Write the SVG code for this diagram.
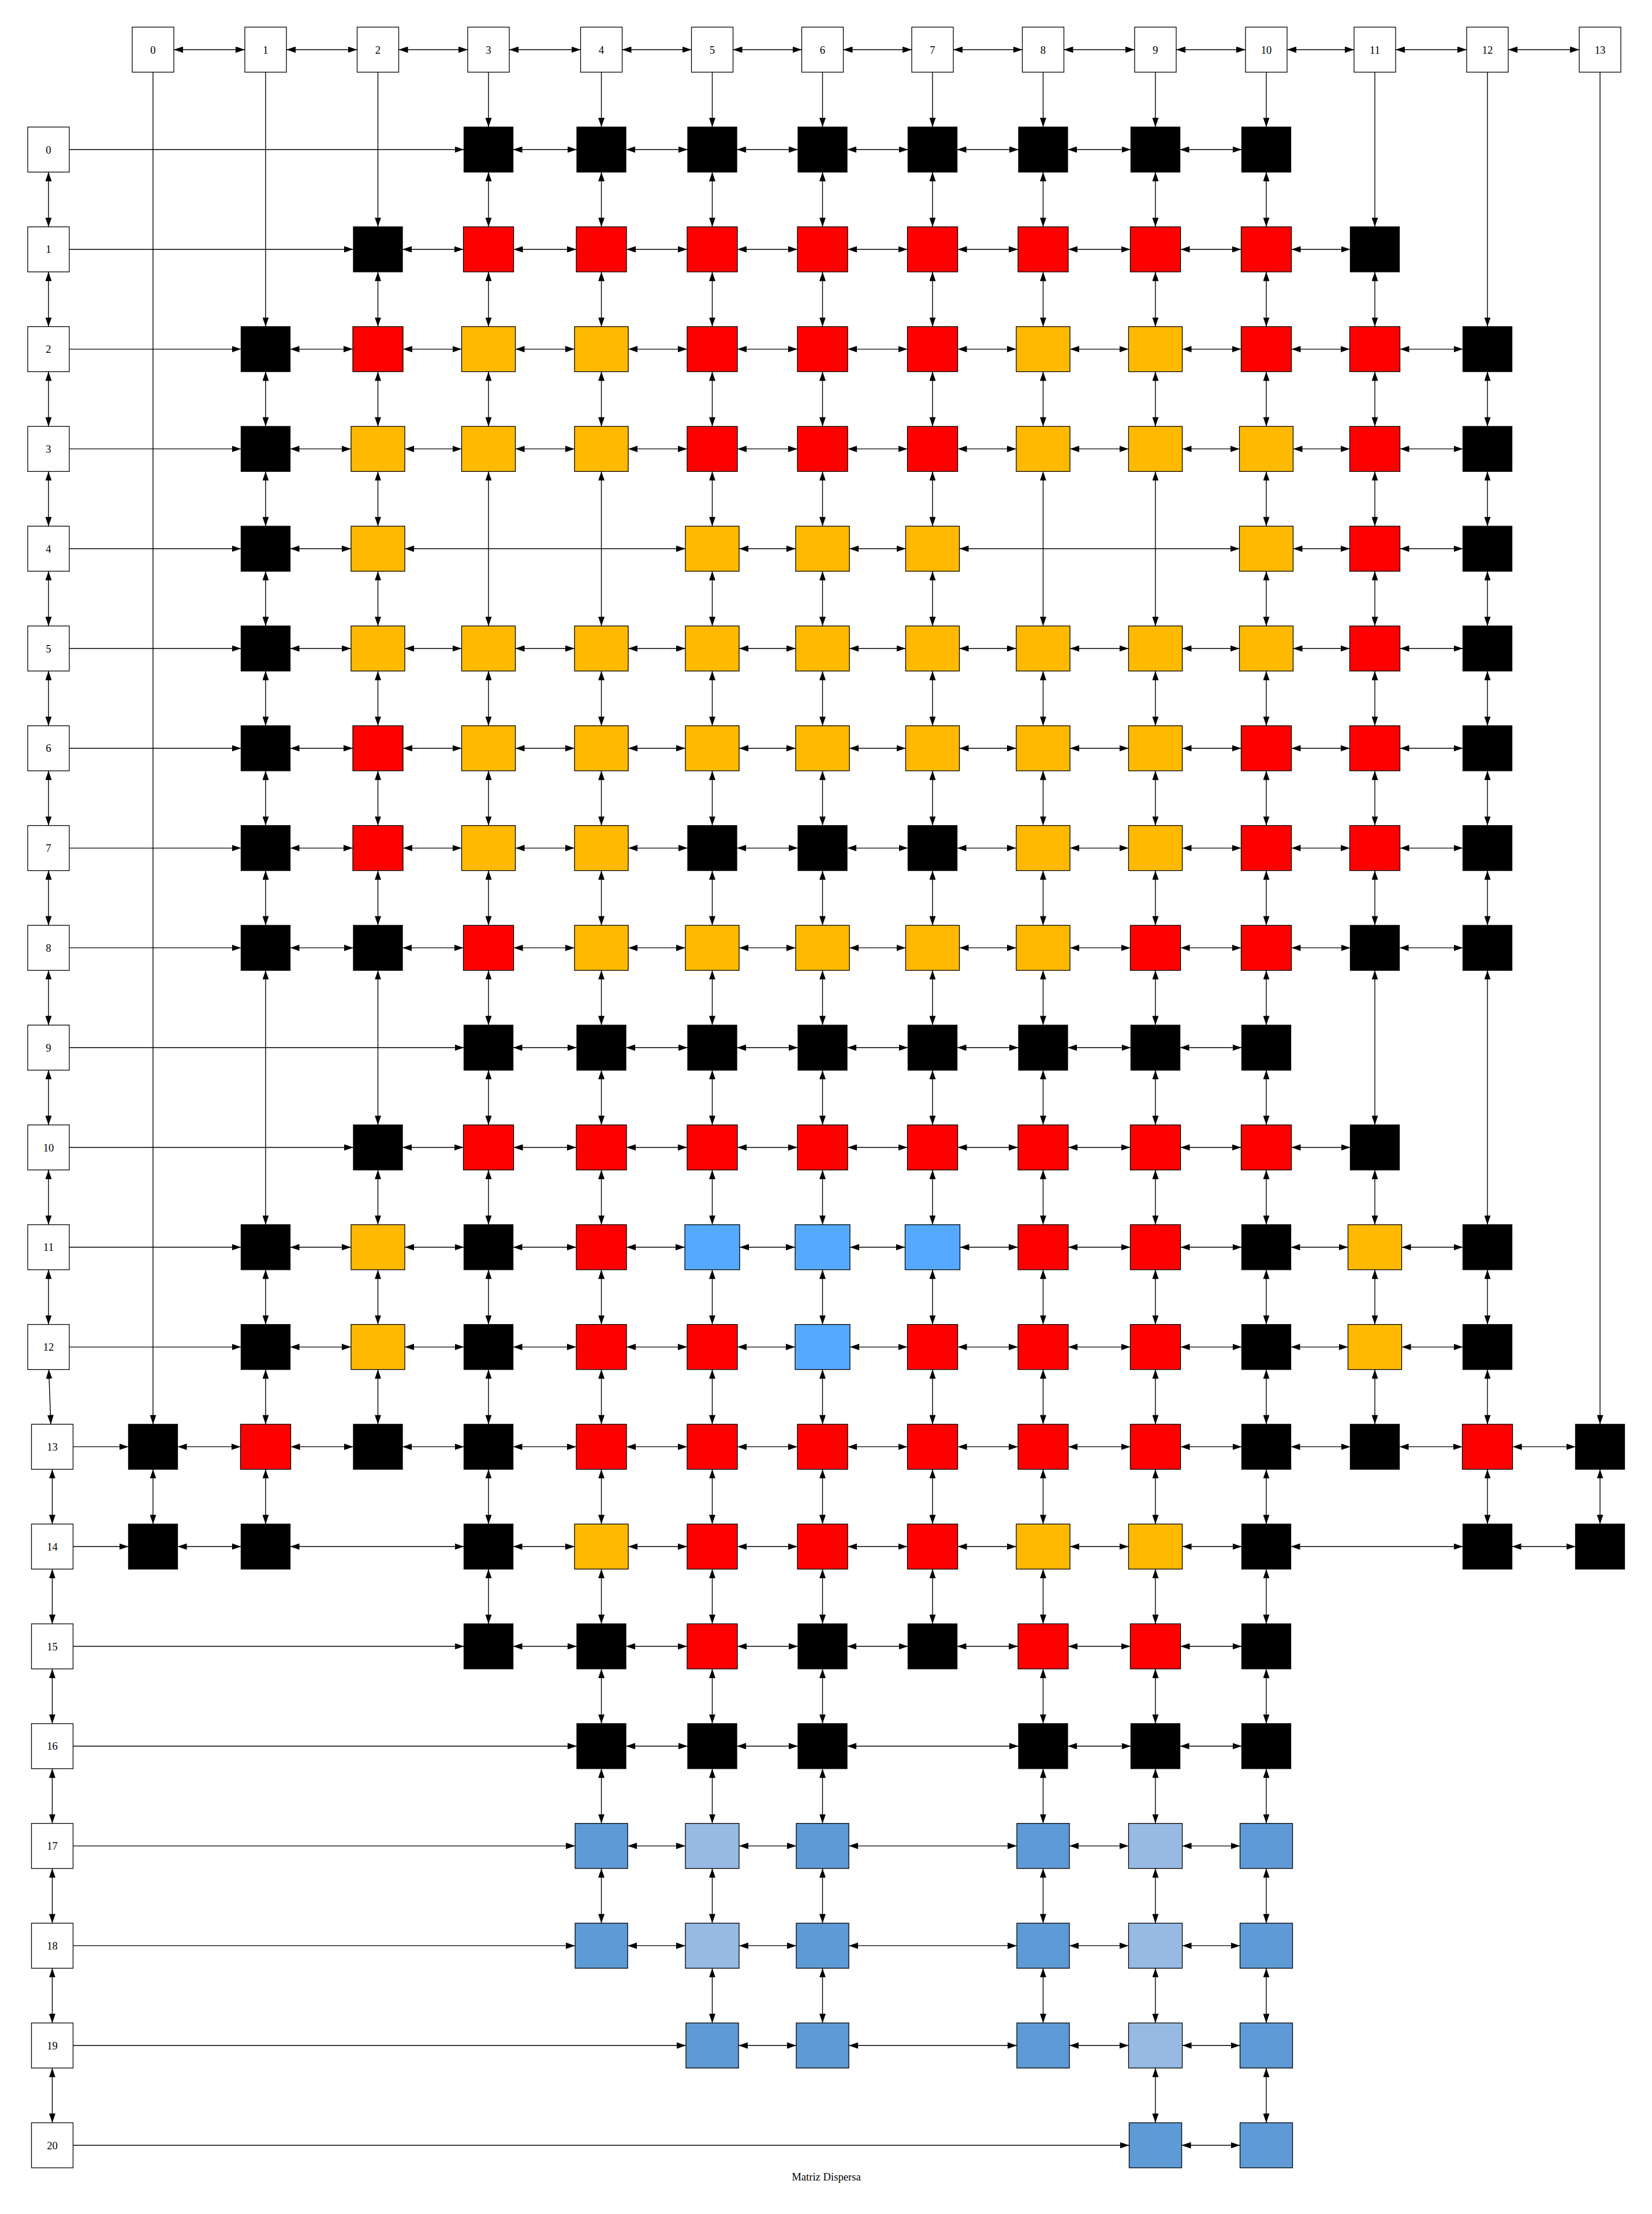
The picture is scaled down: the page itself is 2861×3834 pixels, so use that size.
<svg xmlns="http://www.w3.org/2000/svg" xmlns:xlink="http://www.w3.org/1999/xlink" width="2861" height="3834" viewBox="0 0 2861 3834">
<style>
.e path{fill:none;stroke:#000;stroke-width:1.4}
.e .d{marker-start:url(#a);marker-end:url(#a)}
.e .s{marker-end:url(#a)}
text{font-family:"Liberation Serif","Times New Roman",serif;font-size:18.67px;text-anchor:middle;fill:#000}
</style>
<defs>
<marker id="a" viewBox="0 0 16 11" refX="16" refY="5.5" markerWidth="16" markerHeight="11" markerUnits="userSpaceOnUse" orient="auto-start-reverse"><path d="M0,0L16,5.5L0,11z" fill="#000"/></marker>
<rect id="H" x="-36" y="-39" width="72" height="78" fill="#fff" stroke="#000" stroke-width="1.3"/>
<rect id="K" x="-42.5" y="-39" width="85" height="78" fill="#000" stroke="#000" stroke-width="1.3"/>
<rect id="R" x="-43.5" y="-39" width="87" height="78" fill="#ff0000" stroke="#000" stroke-width="1.3"/>
<rect id="Y" x="-46.5" y="-39" width="93" height="78" fill="#ffba00" stroke="#000" stroke-width="1.3"/>
<rect id="L" x="-47.5" y="-39" width="95" height="78" fill="#55aaff" stroke="#000" stroke-width="1.3"/>
<rect id="B" x="-45.5" y="-39" width="91" height="78" fill="#5e9ad6" stroke="#000" stroke-width="1.3"/>
<rect id="P" x="-46.5" y="-39" width="93" height="78" fill="#96bae3" stroke="#000" stroke-width="1.3"/>
</defs>
<rect width="2861" height="3834" fill="#fff"/>
<g class="e" id="connectors">
<!-- column header chain -->
<path class="d" d="M301 86H424"/><path class="d" d="M496 86H618.5"/><path class="d" d="M690.5 86H810"/><path class="d" d="M882 86H1005.5"/><path class="d" d="M1077.5 86H1197.5"/><path class="d" d="M1269.5 86H1388.5"/><path class="d" d="M1460.5 86H1579"/><path class="d" d="M1651 86H1770.5"/><path class="d" d="M1842.5 86H1965"/><path class="d" d="M2037 86H2157"/><path class="d" d="M2229 86H2345"/><path class="d" d="M2417 86H2540"/><path class="d" d="M2612 86H2735"/>
<!-- column header to first cell -->
<path class="s" d="M265 125V2466.4"/><path class="s" d="M460 125V565.6"/><path class="s" d="M654.5 125V392.8"/><path class="s" d="M846 125V220"/><path class="s" d="M1041.5 125V220"/><path class="s" d="M1233.5 125V220"/><path class="s" d="M1424.5 125V220"/><path class="s" d="M1615 125V220"/><path class="s" d="M1806.5 125V220"/><path class="s" d="M2001 125V220"/><path class="s" d="M2193 125V220"/><path class="s" d="M2381 125V392.8"/><path class="s" d="M2576 125V565.6"/><path class="s" d="M2771 125V2466.4"/>
<!-- row header chain -->
<path class="d" d="M84 298V392.8"/><path class="d" d="M84 470.8V565.6"/><path class="d" d="M84 643.6V738.4"/><path class="d" d="M84 816.4V911.2"/><path class="d" d="M84 989.2V1084"/><path class="d" d="M84 1162V1256.8"/><path class="d" d="M84 1334.8V1429.6"/><path class="d" d="M84 1507.6V1602.4"/><path class="d" d="M84 1680.4V1775.2"/><path class="d" d="M84 1853.2V1948"/><path class="d" d="M84 2026V2120.8"/><path class="d" d="M84 2198.8V2293.6"/><path class="d" d="M84.5 2371.6L88 2466.4"/><path class="d" d="M90.5 2544.4V2639.2"/><path class="d" d="M90.5 2717.2V2812"/><path class="d" d="M90.5 2890V2984.8"/><path class="d" d="M90.5 3062.8V3157.6"/><path class="d" d="M90.5 3235.6V3330.4"/><path class="d" d="M90.5 3408.4V3503.2"/><path class="d" d="M90.5 3581.2V3676"/>
<!-- row header to first cell -->
<path class="s" d="M120 259H803.5"/><path class="s" d="M120 431.8H612"/><path class="s" d="M120 604.6H417.5"/><path class="s" d="M120 777.4H417.5"/><path class="s" d="M120 950.2H417.5"/><path class="s" d="M120 1123H417.5"/><path class="s" d="M120 1295.8H417.5"/><path class="s" d="M120 1468.6H417.5"/><path class="s" d="M120 1641.4H417.5"/><path class="s" d="M120 1814.2H803.5"/><path class="s" d="M120 1987H612"/><path class="s" d="M120 2159.8H417.5"/><path class="s" d="M120 2332.6H417.5"/><path class="s" d="M126.5 2505.4H222.5"/><path class="s" d="M126.5 2678.2H222.5"/><path class="s" d="M126.5 2851H803.5"/><path class="s" d="M126.5 3023.8H999"/><path class="s" d="M126.5 3196.6H996"/><path class="s" d="M126.5 3369.4H996"/><path class="s" d="M126.5 3542.2H1188"/><path class="s" d="M126.5 3715H1955.5"/>
<!-- row 0 -->
<path class="d" d="M888.5 259H999"/><path class="d" d="M1084 259H1191"/><path class="d" d="M1276 259H1382"/><path class="d" d="M1467 259H1572.5"/><path class="d" d="M1657.5 259H1764"/><path class="d" d="M1849 259H1958.5"/><path class="d" d="M2043.5 259H2150.5"/>
<!-- row 1 -->
<path class="d" d="M697 431.8H802.5"/><path class="d" d="M889.5 431.8H998"/><path class="d" d="M1085 431.8H1190"/><path class="d" d="M1277 431.8H1381"/><path class="d" d="M1468 431.8H1571.5"/><path class="d" d="M1658.5 431.8H1763"/><path class="d" d="M1850 431.8H1957.5"/><path class="d" d="M2044.5 431.8H2149.5"/><path class="d" d="M2236.5 431.8H2338.5"/>
<!-- row 2 -->
<path class="d" d="M502.5 604.6H611"/><path class="d" d="M698 604.6H799.5"/><path class="d" d="M892.5 604.6H995"/><path class="d" d="M1088 604.6H1190"/><path class="d" d="M1277 604.6H1381"/><path class="d" d="M1468 604.6H1571.5"/><path class="d" d="M1658.5 604.6H1760"/><path class="d" d="M1853 604.6H1954.5"/><path class="d" d="M2047.5 604.6H2149.5"/><path class="d" d="M2236.5 604.6H2337.5"/><path class="d" d="M2424.5 604.6H2533.5"/>
<!-- row 3 -->
<path class="d" d="M502.5 777.4H608"/><path class="d" d="M701 777.4H799.5"/><path class="d" d="M892.5 777.4H995"/><path class="d" d="M1088 777.4H1190"/><path class="d" d="M1277 777.4H1381"/><path class="d" d="M1468 777.4H1571.5"/><path class="d" d="M1658.5 777.4H1760"/><path class="d" d="M1853 777.4H1954.5"/><path class="d" d="M2047.5 777.4H2146.5"/><path class="d" d="M2239.5 777.4H2337.5"/><path class="d" d="M2424.5 777.4H2533.5"/>
<!-- row 4 -->
<path class="d" d="M502.5 950.2H608"/><path class="d" d="M701 950.2H1187"/><path class="d" d="M1280 950.2H1378"/><path class="d" d="M1471 950.2H1568.5"/><path class="d" d="M1661.5 950.2H2146.5"/><path class="d" d="M2239.5 950.2H2337.5"/><path class="d" d="M2424.5 950.2H2533.5"/>
<!-- row 5 -->
<path class="d" d="M502.5 1123H608"/><path class="d" d="M701 1123H799.5"/><path class="d" d="M892.5 1123H995"/><path class="d" d="M1088 1123H1187"/><path class="d" d="M1280 1123H1378"/><path class="d" d="M1471 1123H1568.5"/><path class="d" d="M1661.5 1123H1760"/><path class="d" d="M1853 1123H1954.5"/><path class="d" d="M2047.5 1123H2146.5"/><path class="d" d="M2239.5 1123H2337.5"/><path class="d" d="M2424.5 1123H2533.5"/>
<!-- row 6 -->
<path class="d" d="M502.5 1295.8H611"/><path class="d" d="M698 1295.8H799.5"/><path class="d" d="M892.5 1295.8H995"/><path class="d" d="M1088 1295.8H1187"/><path class="d" d="M1280 1295.8H1378"/><path class="d" d="M1471 1295.8H1568.5"/><path class="d" d="M1661.5 1295.8H1760"/><path class="d" d="M1853 1295.8H1954.5"/><path class="d" d="M2047.5 1295.8H2149.5"/><path class="d" d="M2236.5 1295.8H2337.5"/><path class="d" d="M2424.5 1295.8H2533.5"/>
<!-- row 7 -->
<path class="d" d="M502.5 1468.6H611"/><path class="d" d="M698 1468.6H799.5"/><path class="d" d="M892.5 1468.6H995"/><path class="d" d="M1088 1468.6H1191"/><path class="d" d="M1276 1468.6H1382"/><path class="d" d="M1467 1468.6H1572.5"/><path class="d" d="M1657.5 1468.6H1760"/><path class="d" d="M1853 1468.6H1954.5"/><path class="d" d="M2047.5 1468.6H2149.5"/><path class="d" d="M2236.5 1468.6H2337.5"/><path class="d" d="M2424.5 1468.6H2533.5"/>
<!-- row 8 -->
<path class="d" d="M502.5 1641.4H612"/><path class="d" d="M697 1641.4H802.5"/><path class="d" d="M889.5 1641.4H995"/><path class="d" d="M1088 1641.4H1187"/><path class="d" d="M1280 1641.4H1378"/><path class="d" d="M1471 1641.4H1568.5"/><path class="d" d="M1661.5 1641.4H1760"/><path class="d" d="M1853 1641.4H1957.5"/><path class="d" d="M2044.5 1641.4H2149.5"/><path class="d" d="M2236.5 1641.4H2338.5"/><path class="d" d="M2423.5 1641.4H2533.5"/>
<!-- row 9 -->
<path class="d" d="M888.5 1814.2H999"/><path class="d" d="M1084 1814.2H1191"/><path class="d" d="M1276 1814.2H1382"/><path class="d" d="M1467 1814.2H1572.5"/><path class="d" d="M1657.5 1814.2H1764"/><path class="d" d="M1849 1814.2H1958.5"/><path class="d" d="M2043.5 1814.2H2150.5"/>
<!-- row 10 -->
<path class="d" d="M697 1987H802.5"/><path class="d" d="M889.5 1987H998"/><path class="d" d="M1085 1987H1190"/><path class="d" d="M1277 1987H1381"/><path class="d" d="M1468 1987H1571.5"/><path class="d" d="M1658.5 1987H1763"/><path class="d" d="M1850 1987H1957.5"/><path class="d" d="M2044.5 1987H2149.5"/><path class="d" d="M2236.5 1987H2338.5"/>
<!-- row 11 -->
<path class="d" d="M502.5 2159.8H608"/><path class="d" d="M701 2159.8H803.5"/><path class="d" d="M888.5 2159.8H998"/><path class="d" d="M1085 2159.8H1186"/><path class="d" d="M1281 2159.8H1377"/><path class="d" d="M1472 2159.8H1567.5"/><path class="d" d="M1662.5 2159.8H1763"/><path class="d" d="M1850 2159.8H1957.5"/><path class="d" d="M2044.5 2159.8H2150.5"/><path class="d" d="M2235.5 2159.8H2334.5"/><path class="d" d="M2427.5 2159.8H2533.5"/>
<!-- row 12 -->
<path class="d" d="M502.5 2332.6H608"/><path class="d" d="M701 2332.6H803.5"/><path class="d" d="M888.5 2332.6H998"/><path class="d" d="M1085 2332.6H1190"/><path class="d" d="M1277 2332.6H1377"/><path class="d" d="M1472 2332.6H1571.5"/><path class="d" d="M1658.5 2332.6H1763"/><path class="d" d="M1850 2332.6H1957.5"/><path class="d" d="M2044.5 2332.6H2150.5"/><path class="d" d="M2235.5 2332.6H2334.5"/><path class="d" d="M2427.5 2332.6H2533.5"/>
<!-- row 13 -->
<path class="d" d="M307.5 2505.4H416.5"/><path class="d" d="M503.5 2505.4H612"/><path class="d" d="M697 2505.4H803.5"/><path class="d" d="M888.5 2505.4H998"/><path class="d" d="M1085 2505.4H1190"/><path class="d" d="M1277 2505.4H1381"/><path class="d" d="M1468 2505.4H1571.5"/><path class="d" d="M1658.5 2505.4H1763"/><path class="d" d="M1850 2505.4H1957.5"/><path class="d" d="M2044.5 2505.4H2150.5"/><path class="d" d="M2235.5 2505.4H2338.5"/><path class="d" d="M2423.5 2505.4H2532.5"/><path class="d" d="M2619.5 2505.4H2728.5"/>
<!-- row 14 -->
<path class="d" d="M307.5 2678.2H417.5"/><path class="d" d="M502.5 2678.2H803.5"/><path class="d" d="M888.5 2678.2H995"/><path class="d" d="M1088 2678.2H1190"/><path class="d" d="M1277 2678.2H1381"/><path class="d" d="M1468 2678.2H1571.5"/><path class="d" d="M1658.5 2678.2H1760"/><path class="d" d="M1853 2678.2H1954.5"/><path class="d" d="M2047.5 2678.2H2150.5"/><path class="d" d="M2235.5 2678.2H2533.5"/><path class="d" d="M2618.5 2678.2H2728.5"/>
<!-- row 15 -->
<path class="d" d="M888.5 2851H999"/><path class="d" d="M1084 2851H1190"/><path class="d" d="M1277 2851H1382"/><path class="d" d="M1467 2851H1572.5"/><path class="d" d="M1657.5 2851H1763"/><path class="d" d="M1850 2851H1957.5"/><path class="d" d="M2044.5 2851H2150.5"/>
<!-- row 16 -->
<path class="d" d="M1084 3023.8H1191"/><path class="d" d="M1276 3023.8H1382"/><path class="d" d="M1467 3023.8H1764"/><path class="d" d="M1849 3023.8H1958.5"/><path class="d" d="M2043.5 3023.8H2150.5"/>
<!-- row 17 -->
<path class="d" d="M1087 3196.6H1187"/><path class="d" d="M1280 3196.6H1379"/><path class="d" d="M1470 3196.6H1761"/><path class="d" d="M1852 3196.6H1954.5"/><path class="d" d="M2047.5 3196.6H2147.5"/>
<!-- row 18 -->
<path class="d" d="M1087 3369.4H1187"/><path class="d" d="M1280 3369.4H1379"/><path class="d" d="M1470 3369.4H1761"/><path class="d" d="M1852 3369.4H1954.5"/><path class="d" d="M2047.5 3369.4H2147.5"/>
<!-- row 19 -->
<path class="d" d="M1279 3542.2H1379"/><path class="d" d="M1470 3542.2H1761"/><path class="d" d="M1852 3542.2H1954.5"/><path class="d" d="M2047.5 3542.2H2147.5"/>
<!-- row 20 -->
<path class="d" d="M2046.5 3715H2147.5"/>
<!-- column 0 -->
<path class="d" d="M265 2544.4V2639.2"/>
<!-- column 1 -->
<path class="d" d="M460 643.6V738.4"/><path class="d" d="M460 816.4V911.2"/><path class="d" d="M460 989.2V1084"/><path class="d" d="M460 1162V1256.8"/><path class="d" d="M460 1334.8V1429.6"/><path class="d" d="M460 1507.6V1602.4"/><path class="d" d="M460 1680.4V2120.8"/><path class="d" d="M460 2198.8V2293.6"/><path class="d" d="M460 2371.6V2466.4"/><path class="d" d="M460 2544.4V2639.2"/>
<!-- column 2 -->
<path class="d" d="M654.5 470.8V565.6"/><path class="d" d="M654.5 643.6V738.4"/><path class="d" d="M654.5 816.4V911.2"/><path class="d" d="M654.5 989.2V1084"/><path class="d" d="M654.5 1162V1256.8"/><path class="d" d="M654.5 1334.8V1429.6"/><path class="d" d="M654.5 1507.6V1602.4"/><path class="d" d="M654.5 1680.4V1948"/><path class="d" d="M654.5 2026V2120.8"/><path class="d" d="M654.5 2198.8V2293.6"/><path class="d" d="M654.5 2371.6V2466.4"/>
<!-- column 3 -->
<path class="d" d="M846 298V392.8"/><path class="d" d="M846 470.8V565.6"/><path class="d" d="M846 643.6V738.4"/><path class="d" d="M846 816.4V1084"/><path class="d" d="M846 1162V1256.8"/><path class="d" d="M846 1334.8V1429.6"/><path class="d" d="M846 1507.6V1602.4"/><path class="d" d="M846 1680.4V1775.2"/><path class="d" d="M846 1853.2V1948"/><path class="d" d="M846 2026V2120.8"/><path class="d" d="M846 2198.8V2293.6"/><path class="d" d="M846 2371.6V2466.4"/><path class="d" d="M846 2544.4V2639.2"/><path class="d" d="M846 2717.2V2812"/>
<!-- column 4 -->
<path class="d" d="M1041.5 298V392.8"/><path class="d" d="M1041.5 470.8V565.6"/><path class="d" d="M1041.5 643.6V738.4"/><path class="d" d="M1041.5 816.4V1084"/><path class="d" d="M1041.5 1162V1256.8"/><path class="d" d="M1041.5 1334.8V1429.6"/><path class="d" d="M1041.5 1507.6V1602.4"/><path class="d" d="M1041.5 1680.4V1775.2"/><path class="d" d="M1041.5 1853.2V1948"/><path class="d" d="M1041.5 2026V2120.8"/><path class="d" d="M1041.5 2198.8V2293.6"/><path class="d" d="M1041.5 2371.6V2466.4"/><path class="d" d="M1041.5 2544.4V2639.2"/><path class="d" d="M1041.5 2717.2V2812"/><path class="d" d="M1041.5 2890V2984.8"/><path class="d" d="M1041.5 3062.8V3157.6"/><path class="d" d="M1041.5 3235.6V3330.4"/>
<!-- column 5 -->
<path class="d" d="M1233.5 298V392.8"/><path class="d" d="M1233.5 470.8V565.6"/><path class="d" d="M1233.5 643.6V738.4"/><path class="d" d="M1233.5 816.4V911.2"/><path class="d" d="M1233.5 989.2V1084"/><path class="d" d="M1233.5 1162V1256.8"/><path class="d" d="M1233.5 1334.8V1429.6"/><path class="d" d="M1233.5 1507.6V1602.4"/><path class="d" d="M1233.5 1680.4V1775.2"/><path class="d" d="M1233.5 1853.2V1948"/><path class="d" d="M1233.5 2026V2120.8"/><path class="d" d="M1233.5 2198.8V2293.6"/><path class="d" d="M1233.5 2371.6V2466.4"/><path class="d" d="M1233.5 2544.4V2639.2"/><path class="d" d="M1233.5 2717.2V2812"/><path class="d" d="M1233.5 2890V2984.8"/><path class="d" d="M1233.5 3062.8V3157.6"/><path class="d" d="M1233.5 3235.6V3330.4"/><path class="d" d="M1233.5 3408.4V3503.2"/>
<!-- column 6 -->
<path class="d" d="M1424.5 298V392.8"/><path class="d" d="M1424.5 470.8V565.6"/><path class="d" d="M1424.5 643.6V738.4"/><path class="d" d="M1424.5 816.4V911.2"/><path class="d" d="M1424.5 989.2V1084"/><path class="d" d="M1424.5 1162V1256.8"/><path class="d" d="M1424.5 1334.8V1429.6"/><path class="d" d="M1424.5 1507.6V1602.4"/><path class="d" d="M1424.5 1680.4V1775.2"/><path class="d" d="M1424.5 1853.2V1948"/><path class="d" d="M1424.5 2026V2120.8"/><path class="d" d="M1424.5 2198.8V2293.6"/><path class="d" d="M1424.5 2371.6V2466.4"/><path class="d" d="M1424.5 2544.4V2639.2"/><path class="d" d="M1424.5 2717.2V2812"/><path class="d" d="M1424.5 2890V2984.8"/><path class="d" d="M1424.5 3062.8V3157.6"/><path class="d" d="M1424.5 3235.6V3330.4"/><path class="d" d="M1424.5 3408.4V3503.2"/>
<!-- column 7 -->
<path class="d" d="M1615 298V392.8"/><path class="d" d="M1615 470.8V565.6"/><path class="d" d="M1615 643.6V738.4"/><path class="d" d="M1615 816.4V911.2"/><path class="d" d="M1615 989.2V1084"/><path class="d" d="M1615 1162V1256.8"/><path class="d" d="M1615 1334.8V1429.6"/><path class="d" d="M1615 1507.6V1602.4"/><path class="d" d="M1615 1680.4V1775.2"/><path class="d" d="M1615 1853.2V1948"/><path class="d" d="M1615 2026V2120.8"/><path class="d" d="M1615 2198.8V2293.6"/><path class="d" d="M1615 2371.6V2466.4"/><path class="d" d="M1615 2544.4V2639.2"/><path class="d" d="M1615 2717.2V2812"/>
<!-- column 8 -->
<path class="d" d="M1806.5 298V392.8"/><path class="d" d="M1806.5 470.8V565.6"/><path class="d" d="M1806.5 643.6V738.4"/><path class="d" d="M1806.5 816.4V1084"/><path class="d" d="M1806.5 1162V1256.8"/><path class="d" d="M1806.5 1334.8V1429.6"/><path class="d" d="M1806.5 1507.6V1602.4"/><path class="d" d="M1806.5 1680.4V1775.2"/><path class="d" d="M1806.5 1853.2V1948"/><path class="d" d="M1806.5 2026V2120.8"/><path class="d" d="M1806.5 2198.8V2293.6"/><path class="d" d="M1806.5 2371.6V2466.4"/><path class="d" d="M1806.5 2544.4V2639.2"/><path class="d" d="M1806.5 2717.2V2812"/><path class="d" d="M1806.5 2890V2984.8"/><path class="d" d="M1806.5 3062.8V3157.6"/><path class="d" d="M1806.5 3235.6V3330.4"/><path class="d" d="M1806.5 3408.4V3503.2"/>
<!-- column 9 -->
<path class="d" d="M2001 298V392.8"/><path class="d" d="M2001 470.8V565.6"/><path class="d" d="M2001 643.6V738.4"/><path class="d" d="M2001 816.4V1084"/><path class="d" d="M2001 1162V1256.8"/><path class="d" d="M2001 1334.8V1429.6"/><path class="d" d="M2001 1507.6V1602.4"/><path class="d" d="M2001 1680.4V1775.2"/><path class="d" d="M2001 1853.2V1948"/><path class="d" d="M2001 2026V2120.8"/><path class="d" d="M2001 2198.8V2293.6"/><path class="d" d="M2001 2371.6V2466.4"/><path class="d" d="M2001 2544.4V2639.2"/><path class="d" d="M2001 2717.2V2812"/><path class="d" d="M2001 2890V2984.8"/><path class="d" d="M2001 3062.8V3157.6"/><path class="d" d="M2001 3235.6V3330.4"/><path class="d" d="M2001 3408.4V3503.2"/><path class="d" d="M2001 3581.2V3676"/>
<!-- column 10 -->
<path class="d" d="M2193 298V392.8"/><path class="d" d="M2193 470.8V565.6"/><path class="d" d="M2193 643.6V738.4"/><path class="d" d="M2193 816.4V911.2"/><path class="d" d="M2193 989.2V1084"/><path class="d" d="M2193 1162V1256.8"/><path class="d" d="M2193 1334.8V1429.6"/><path class="d" d="M2193 1507.6V1602.4"/><path class="d" d="M2193 1680.4V1775.2"/><path class="d" d="M2193 1853.2V1948"/><path class="d" d="M2193 2026V2120.8"/><path class="d" d="M2193 2198.8V2293.6"/><path class="d" d="M2193 2371.6V2466.4"/><path class="d" d="M2193 2544.4V2639.2"/><path class="d" d="M2193 2717.2V2812"/><path class="d" d="M2193 2890V2984.8"/><path class="d" d="M2193 3062.8V3157.6"/><path class="d" d="M2193 3235.6V3330.4"/><path class="d" d="M2193 3408.4V3503.2"/><path class="d" d="M2193 3581.2V3676"/>
<!-- column 11 -->
<path class="d" d="M2381 470.8V565.6"/><path class="d" d="M2381 643.6V738.4"/><path class="d" d="M2381 816.4V911.2"/><path class="d" d="M2381 989.2V1084"/><path class="d" d="M2381 1162V1256.8"/><path class="d" d="M2381 1334.8V1429.6"/><path class="d" d="M2381 1507.6V1602.4"/><path class="d" d="M2381 1680.4V1948"/><path class="d" d="M2381 2026V2120.8"/><path class="d" d="M2381 2198.8V2293.6"/><path class="d" d="M2381 2371.6V2466.4"/>
<!-- column 12 -->
<path class="d" d="M2576 643.6V738.4"/><path class="d" d="M2576 816.4V911.2"/><path class="d" d="M2576 989.2V1084"/><path class="d" d="M2576 1162V1256.8"/><path class="d" d="M2576 1334.8V1429.6"/><path class="d" d="M2576 1507.6V1602.4"/><path class="d" d="M2576 1680.4V2120.8"/><path class="d" d="M2576 2198.8V2293.6"/><path class="d" d="M2576 2371.6V2466.4"/><path class="d" d="M2576 2544.4V2639.2"/>
<!-- column 13 -->
<path class="d" d="M2771 2544.4V2639.2"/>
</g>
<g id="col-headers">
<g id="col0" transform="translate(265 86)"><use href="#H"/><text y="6.5">0</text></g>
<g id="col1" transform="translate(460 86)"><use href="#H"/><text y="6.5">1</text></g>
<g id="col2" transform="translate(654.5 86)"><use href="#H"/><text y="6.5">2</text></g>
<g id="col3" transform="translate(846 86)"><use href="#H"/><text y="6.5">3</text></g>
<g id="col4" transform="translate(1041.5 86)"><use href="#H"/><text y="6.5">4</text></g>
<g id="col5" transform="translate(1233.5 86)"><use href="#H"/><text y="6.5">5</text></g>
<g id="col6" transform="translate(1424.5 86)"><use href="#H"/><text y="6.5">6</text></g>
<g id="col7" transform="translate(1615 86)"><use href="#H"/><text y="6.5">7</text></g>
<g id="col8" transform="translate(1806.5 86)"><use href="#H"/><text y="6.5">8</text></g>
<g id="col9" transform="translate(2001 86)"><use href="#H"/><text y="6.5">9</text></g>
<g id="col10" transform="translate(2193 86)"><use href="#H"/><text y="6.5">10</text></g>
<g id="col11" transform="translate(2381 86)"><use href="#H"/><text y="6.5">11</text></g>
<g id="col12" transform="translate(2576 86)"><use href="#H"/><text y="6.5">12</text></g>
<g id="col13" transform="translate(2771 86)"><use href="#H"/><text y="6.5">13</text></g>
</g>
<g id="row-headers">
<g id="row0" transform="translate(84 259)"><use href="#H"/><text y="6.5">0</text></g>
<g id="row1" transform="translate(84 431.8)"><use href="#H"/><text y="6.5">1</text></g>
<g id="row2" transform="translate(84 604.6)"><use href="#H"/><text y="6.5">2</text></g>
<g id="row3" transform="translate(84 777.4)"><use href="#H"/><text y="6.5">3</text></g>
<g id="row4" transform="translate(84 950.2)"><use href="#H"/><text y="6.5">4</text></g>
<g id="row5" transform="translate(84 1123)"><use href="#H"/><text y="6.5">5</text></g>
<g id="row6" transform="translate(84 1295.8)"><use href="#H"/><text y="6.5">6</text></g>
<g id="row7" transform="translate(84 1468.6)"><use href="#H"/><text y="6.5">7</text></g>
<g id="row8" transform="translate(84 1641.4)"><use href="#H"/><text y="6.5">8</text></g>
<g id="row9" transform="translate(84 1814.2)"><use href="#H"/><text y="6.5">9</text></g>
<g id="row10" transform="translate(84 1987)"><use href="#H"/><text y="6.5">10</text></g>
<g id="row11" transform="translate(84 2159.8)"><use href="#H"/><text y="6.5">11</text></g>
<g id="row12" transform="translate(84 2332.6)"><use href="#H"/><text y="6.5">12</text></g>
<g id="row13" transform="translate(90.5 2505.4)"><use href="#H"/><text y="6.5">13</text></g>
<g id="row14" transform="translate(90.5 2678.2)"><use href="#H"/><text y="6.5">14</text></g>
<g id="row15" transform="translate(90.5 2851)"><use href="#H"/><text y="6.5">15</text></g>
<g id="row16" transform="translate(90.5 3023.8)"><use href="#H"/><text y="6.5">16</text></g>
<g id="row17" transform="translate(90.5 3196.6)"><use href="#H"/><text y="6.5">17</text></g>
<g id="row18" transform="translate(90.5 3369.4)"><use href="#H"/><text y="6.5">18</text></g>
<g id="row19" transform="translate(90.5 3542.2)"><use href="#H"/><text y="6.5">19</text></g>
<g id="row20" transform="translate(90.5 3715)"><use href="#H"/><text y="6.5">20</text></g>
</g>
<g id="cells">
<g id="r0c3" transform="translate(846 259)"><use href="#K"/></g><g id="r0c4" transform="translate(1041.5 259)"><use href="#K"/></g><g id="r0c5" transform="translate(1233.5 259)"><use href="#K"/></g><g id="r0c6" transform="translate(1424.5 259)"><use href="#K"/></g><g id="r0c7" transform="translate(1615 259)"><use href="#K"/></g><g id="r0c8" transform="translate(1806.5 259)"><use href="#K"/></g><g id="r0c9" transform="translate(2001 259)"><use href="#K"/></g><g id="r0c10" transform="translate(2193 259)"><use href="#K"/></g>
<g id="r1c2" transform="translate(654.5 431.8)"><use href="#K"/></g><g id="r1c3" transform="translate(846 431.8)"><use href="#R"/></g><g id="r1c4" transform="translate(1041.5 431.8)"><use href="#R"/></g><g id="r1c5" transform="translate(1233.5 431.8)"><use href="#R"/></g><g id="r1c6" transform="translate(1424.5 431.8)"><use href="#R"/></g><g id="r1c7" transform="translate(1615 431.8)"><use href="#R"/></g><g id="r1c8" transform="translate(1806.5 431.8)"><use href="#R"/></g><g id="r1c9" transform="translate(2001 431.8)"><use href="#R"/></g><g id="r1c10" transform="translate(2193 431.8)"><use href="#R"/></g><g id="r1c11" transform="translate(2381 431.8)"><use href="#K"/></g>
<g id="r2c1" transform="translate(460 604.6)"><use href="#K"/></g><g id="r2c2" transform="translate(654.5 604.6)"><use href="#R"/></g><g id="r2c3" transform="translate(846 604.6)"><use href="#Y"/></g><g id="r2c4" transform="translate(1041.5 604.6)"><use href="#Y"/></g><g id="r2c5" transform="translate(1233.5 604.6)"><use href="#R"/></g><g id="r2c6" transform="translate(1424.5 604.6)"><use href="#R"/></g><g id="r2c7" transform="translate(1615 604.6)"><use href="#R"/></g><g id="r2c8" transform="translate(1806.5 604.6)"><use href="#Y"/></g><g id="r2c9" transform="translate(2001 604.6)"><use href="#Y"/></g><g id="r2c10" transform="translate(2193 604.6)"><use href="#R"/></g><g id="r2c11" transform="translate(2381 604.6)"><use href="#R"/></g><g id="r2c12" transform="translate(2576 604.6)"><use href="#K"/></g>
<g id="r3c1" transform="translate(460 777.4)"><use href="#K"/></g><g id="r3c2" transform="translate(654.5 777.4)"><use href="#Y"/></g><g id="r3c3" transform="translate(846 777.4)"><use href="#Y"/></g><g id="r3c4" transform="translate(1041.5 777.4)"><use href="#Y"/></g><g id="r3c5" transform="translate(1233.5 777.4)"><use href="#R"/></g><g id="r3c6" transform="translate(1424.5 777.4)"><use href="#R"/></g><g id="r3c7" transform="translate(1615 777.4)"><use href="#R"/></g><g id="r3c8" transform="translate(1806.5 777.4)"><use href="#Y"/></g><g id="r3c9" transform="translate(2001 777.4)"><use href="#Y"/></g><g id="r3c10" transform="translate(2193 777.4)"><use href="#Y"/></g><g id="r3c11" transform="translate(2381 777.4)"><use href="#R"/></g><g id="r3c12" transform="translate(2576 777.4)"><use href="#K"/></g>
<g id="r4c1" transform="translate(460 950.2)"><use href="#K"/></g><g id="r4c2" transform="translate(654.5 950.2)"><use href="#Y"/></g><g id="r4c5" transform="translate(1233.5 950.2)"><use href="#Y"/></g><g id="r4c6" transform="translate(1424.5 950.2)"><use href="#Y"/></g><g id="r4c7" transform="translate(1615 950.2)"><use href="#Y"/></g><g id="r4c10" transform="translate(2193 950.2)"><use href="#Y"/></g><g id="r4c11" transform="translate(2381 950.2)"><use href="#R"/></g><g id="r4c12" transform="translate(2576 950.2)"><use href="#K"/></g>
<g id="r5c1" transform="translate(460 1123)"><use href="#K"/></g><g id="r5c2" transform="translate(654.5 1123)"><use href="#Y"/></g><g id="r5c3" transform="translate(846 1123)"><use href="#Y"/></g><g id="r5c4" transform="translate(1041.5 1123)"><use href="#Y"/></g><g id="r5c5" transform="translate(1233.5 1123)"><use href="#Y"/></g><g id="r5c6" transform="translate(1424.5 1123)"><use href="#Y"/></g><g id="r5c7" transform="translate(1615 1123)"><use href="#Y"/></g><g id="r5c8" transform="translate(1806.5 1123)"><use href="#Y"/></g><g id="r5c9" transform="translate(2001 1123)"><use href="#Y"/></g><g id="r5c10" transform="translate(2193 1123)"><use href="#Y"/></g><g id="r5c11" transform="translate(2381 1123)"><use href="#R"/></g><g id="r5c12" transform="translate(2576 1123)"><use href="#K"/></g>
<g id="r6c1" transform="translate(460 1295.8)"><use href="#K"/></g><g id="r6c2" transform="translate(654.5 1295.8)"><use href="#R"/></g><g id="r6c3" transform="translate(846 1295.8)"><use href="#Y"/></g><g id="r6c4" transform="translate(1041.5 1295.8)"><use href="#Y"/></g><g id="r6c5" transform="translate(1233.5 1295.8)"><use href="#Y"/></g><g id="r6c6" transform="translate(1424.5 1295.8)"><use href="#Y"/></g><g id="r6c7" transform="translate(1615 1295.8)"><use href="#Y"/></g><g id="r6c8" transform="translate(1806.5 1295.8)"><use href="#Y"/></g><g id="r6c9" transform="translate(2001 1295.8)"><use href="#Y"/></g><g id="r6c10" transform="translate(2193 1295.8)"><use href="#R"/></g><g id="r6c11" transform="translate(2381 1295.8)"><use href="#R"/></g><g id="r6c12" transform="translate(2576 1295.8)"><use href="#K"/></g>
<g id="r7c1" transform="translate(460 1468.6)"><use href="#K"/></g><g id="r7c2" transform="translate(654.5 1468.6)"><use href="#R"/></g><g id="r7c3" transform="translate(846 1468.6)"><use href="#Y"/></g><g id="r7c4" transform="translate(1041.5 1468.6)"><use href="#Y"/></g><g id="r7c5" transform="translate(1233.5 1468.6)"><use href="#K"/></g><g id="r7c6" transform="translate(1424.5 1468.6)"><use href="#K"/></g><g id="r7c7" transform="translate(1615 1468.6)"><use href="#K"/></g><g id="r7c8" transform="translate(1806.5 1468.6)"><use href="#Y"/></g><g id="r7c9" transform="translate(2001 1468.6)"><use href="#Y"/></g><g id="r7c10" transform="translate(2193 1468.6)"><use href="#R"/></g><g id="r7c11" transform="translate(2381 1468.6)"><use href="#R"/></g><g id="r7c12" transform="translate(2576 1468.6)"><use href="#K"/></g>
<g id="r8c1" transform="translate(460 1641.4)"><use href="#K"/></g><g id="r8c2" transform="translate(654.5 1641.4)"><use href="#K"/></g><g id="r8c3" transform="translate(846 1641.4)"><use href="#R"/></g><g id="r8c4" transform="translate(1041.5 1641.4)"><use href="#Y"/></g><g id="r8c5" transform="translate(1233.5 1641.4)"><use href="#Y"/></g><g id="r8c6" transform="translate(1424.5 1641.4)"><use href="#Y"/></g><g id="r8c7" transform="translate(1615 1641.4)"><use href="#Y"/></g><g id="r8c8" transform="translate(1806.5 1641.4)"><use href="#Y"/></g><g id="r8c9" transform="translate(2001 1641.4)"><use href="#R"/></g><g id="r8c10" transform="translate(2193 1641.4)"><use href="#R"/></g><g id="r8c11" transform="translate(2381 1641.4)"><use href="#K"/></g><g id="r8c12" transform="translate(2576 1641.4)"><use href="#K"/></g>
<g id="r9c3" transform="translate(846 1814.2)"><use href="#K"/></g><g id="r9c4" transform="translate(1041.5 1814.2)"><use href="#K"/></g><g id="r9c5" transform="translate(1233.5 1814.2)"><use href="#K"/></g><g id="r9c6" transform="translate(1424.5 1814.2)"><use href="#K"/></g><g id="r9c7" transform="translate(1615 1814.2)"><use href="#K"/></g><g id="r9c8" transform="translate(1806.5 1814.2)"><use href="#K"/></g><g id="r9c9" transform="translate(2001 1814.2)"><use href="#K"/></g><g id="r9c10" transform="translate(2193 1814.2)"><use href="#K"/></g>
<g id="r10c2" transform="translate(654.5 1987)"><use href="#K"/></g><g id="r10c3" transform="translate(846 1987)"><use href="#R"/></g><g id="r10c4" transform="translate(1041.5 1987)"><use href="#R"/></g><g id="r10c5" transform="translate(1233.5 1987)"><use href="#R"/></g><g id="r10c6" transform="translate(1424.5 1987)"><use href="#R"/></g><g id="r10c7" transform="translate(1615 1987)"><use href="#R"/></g><g id="r10c8" transform="translate(1806.5 1987)"><use href="#R"/></g><g id="r10c9" transform="translate(2001 1987)"><use href="#R"/></g><g id="r10c10" transform="translate(2193 1987)"><use href="#R"/></g><g id="r10c11" transform="translate(2381 1987)"><use href="#K"/></g>
<g id="r11c1" transform="translate(460 2159.8)"><use href="#K"/></g><g id="r11c2" transform="translate(654.5 2159.8)"><use href="#Y"/></g><g id="r11c3" transform="translate(846 2159.8)"><use href="#K"/></g><g id="r11c4" transform="translate(1041.5 2159.8)"><use href="#R"/></g><g id="r11c5" transform="translate(1233.5 2159.8)"><use href="#L"/></g><g id="r11c6" transform="translate(1424.5 2159.8)"><use href="#L"/></g><g id="r11c7" transform="translate(1615 2159.8)"><use href="#L"/></g><g id="r11c8" transform="translate(1806.5 2159.8)"><use href="#R"/></g><g id="r11c9" transform="translate(2001 2159.8)"><use href="#R"/></g><g id="r11c10" transform="translate(2193 2159.8)"><use href="#K"/></g><g id="r11c11" transform="translate(2381 2159.8)"><use href="#Y"/></g><g id="r11c12" transform="translate(2576 2159.8)"><use href="#K"/></g>
<g id="r12c1" transform="translate(460 2332.6)"><use href="#K"/></g><g id="r12c2" transform="translate(654.5 2332.6)"><use href="#Y"/></g><g id="r12c3" transform="translate(846 2332.6)"><use href="#K"/></g><g id="r12c4" transform="translate(1041.5 2332.6)"><use href="#R"/></g><g id="r12c5" transform="translate(1233.5 2332.6)"><use href="#R"/></g><g id="r12c6" transform="translate(1424.5 2332.6)"><use href="#L"/></g><g id="r12c7" transform="translate(1615 2332.6)"><use href="#R"/></g><g id="r12c8" transform="translate(1806.5 2332.6)"><use href="#R"/></g><g id="r12c9" transform="translate(2001 2332.6)"><use href="#R"/></g><g id="r12c10" transform="translate(2193 2332.6)"><use href="#K"/></g><g id="r12c11" transform="translate(2381 2332.6)"><use href="#Y"/></g><g id="r12c12" transform="translate(2576 2332.6)"><use href="#K"/></g>
<g id="r13c0" transform="translate(265 2505.4)"><use href="#K"/></g><g id="r13c1" transform="translate(460 2505.4)"><use href="#R"/></g><g id="r13c2" transform="translate(654.5 2505.4)"><use href="#K"/></g><g id="r13c3" transform="translate(846 2505.4)"><use href="#K"/></g><g id="r13c4" transform="translate(1041.5 2505.4)"><use href="#R"/></g><g id="r13c5" transform="translate(1233.5 2505.4)"><use href="#R"/></g><g id="r13c6" transform="translate(1424.5 2505.4)"><use href="#R"/></g><g id="r13c7" transform="translate(1615 2505.4)"><use href="#R"/></g><g id="r13c8" transform="translate(1806.5 2505.4)"><use href="#R"/></g><g id="r13c9" transform="translate(2001 2505.4)"><use href="#R"/></g><g id="r13c10" transform="translate(2193 2505.4)"><use href="#K"/></g><g id="r13c11" transform="translate(2381 2505.4)"><use href="#K"/></g><g id="r13c12" transform="translate(2576 2505.4)"><use href="#R"/></g><g id="r13c13" transform="translate(2771 2505.4)"><use href="#K"/></g>
<g id="r14c0" transform="translate(265 2678.2)"><use href="#K"/></g><g id="r14c1" transform="translate(460 2678.2)"><use href="#K"/></g><g id="r14c3" transform="translate(846 2678.2)"><use href="#K"/></g><g id="r14c4" transform="translate(1041.5 2678.2)"><use href="#Y"/></g><g id="r14c5" transform="translate(1233.5 2678.2)"><use href="#R"/></g><g id="r14c6" transform="translate(1424.5 2678.2)"><use href="#R"/></g><g id="r14c7" transform="translate(1615 2678.2)"><use href="#R"/></g><g id="r14c8" transform="translate(1806.5 2678.2)"><use href="#Y"/></g><g id="r14c9" transform="translate(2001 2678.2)"><use href="#Y"/></g><g id="r14c10" transform="translate(2193 2678.2)"><use href="#K"/></g><g id="r14c12" transform="translate(2576 2678.2)"><use href="#K"/></g><g id="r14c13" transform="translate(2771 2678.2)"><use href="#K"/></g>
<g id="r15c3" transform="translate(846 2851)"><use href="#K"/></g><g id="r15c4" transform="translate(1041.5 2851)"><use href="#K"/></g><g id="r15c5" transform="translate(1233.5 2851)"><use href="#R"/></g><g id="r15c6" transform="translate(1424.5 2851)"><use href="#K"/></g><g id="r15c7" transform="translate(1615 2851)"><use href="#K"/></g><g id="r15c8" transform="translate(1806.5 2851)"><use href="#R"/></g><g id="r15c9" transform="translate(2001 2851)"><use href="#R"/></g><g id="r15c10" transform="translate(2193 2851)"><use href="#K"/></g>
<g id="r16c4" transform="translate(1041.5 3023.8)"><use href="#K"/></g><g id="r16c5" transform="translate(1233.5 3023.8)"><use href="#K"/></g><g id="r16c6" transform="translate(1424.5 3023.8)"><use href="#K"/></g><g id="r16c8" transform="translate(1806.5 3023.8)"><use href="#K"/></g><g id="r16c9" transform="translate(2001 3023.8)"><use href="#K"/></g><g id="r16c10" transform="translate(2193 3023.8)"><use href="#K"/></g>
<g id="r17c4" transform="translate(1041.5 3196.6)"><use href="#B"/></g><g id="r17c5" transform="translate(1233.5 3196.6)"><use href="#P"/></g><g id="r17c6" transform="translate(1424.5 3196.6)"><use href="#B"/></g><g id="r17c8" transform="translate(1806.5 3196.6)"><use href="#B"/></g><g id="r17c9" transform="translate(2001 3196.6)"><use href="#P"/></g><g id="r17c10" transform="translate(2193 3196.6)"><use href="#B"/></g>
<g id="r18c4" transform="translate(1041.5 3369.4)"><use href="#B"/></g><g id="r18c5" transform="translate(1233.5 3369.4)"><use href="#P"/></g><g id="r18c6" transform="translate(1424.5 3369.4)"><use href="#B"/></g><g id="r18c8" transform="translate(1806.5 3369.4)"><use href="#B"/></g><g id="r18c9" transform="translate(2001 3369.4)"><use href="#P"/></g><g id="r18c10" transform="translate(2193 3369.4)"><use href="#B"/></g>
<g id="r19c5" transform="translate(1233.5 3542.2)"><use href="#B"/></g><g id="r19c6" transform="translate(1424.5 3542.2)"><use href="#B"/></g><g id="r19c8" transform="translate(1806.5 3542.2)"><use href="#B"/></g><g id="r19c9" transform="translate(2001 3542.2)"><use href="#P"/></g><g id="r19c10" transform="translate(2193 3542.2)"><use href="#B"/></g>
<g id="r20c9" transform="translate(2001 3715)"><use href="#B"/></g><g id="r20c10" transform="translate(2193 3715)"><use href="#B"/></g>
</g>
<g id="title"><text x="1431" y="3776">Matriz Dispersa</text></g>
</svg>
